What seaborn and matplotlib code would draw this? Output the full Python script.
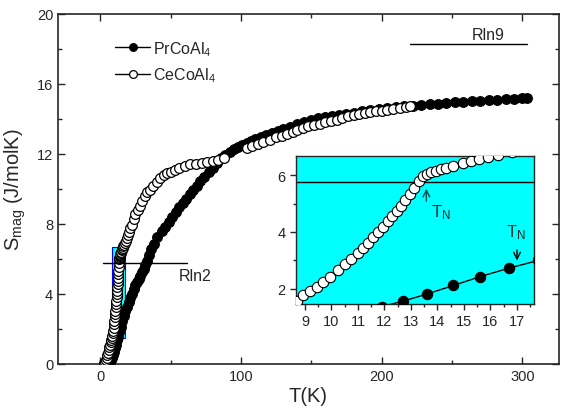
import numpy as np
import matplotlib
matplotlib.use("Agg")
import matplotlib.pyplot as plt
import seaborn as sns
from matplotlib.patches import Rectangle
from matplotlib.ticker import MultipleLocator

# ---------------- data ----------------
ce_T = [3.0, 3.5, 4.0, 4.5, 5.0, 5.5, 6.0, 6.5, 7.0, 7.5, 8.0, 8.5,
        8.69, 8.94, 9.19, 9.44, 9.69, 9.94, 10.26, 10.5, 10.75, 11.0, 11.2, 11.38,
        11.57, 11.75, 11.94, 12.13, 12.3, 12.47, 12.63, 12.79, 12.97, 13.13, 13.3,
        13.47, 13.6, 13.76, 13.95, 14.14, 14.33, 14.58, 14.95, 15.27, 15.58, 15.9,
        16.3, 16.8, 17.4, 18.0, 18.7, 19.5, 20.4, 21.4, 22.5, 23.7, 25.0, 26.5,
        28.0, 29.6, 31.5, 33.5, 35.5, 37.5, 40.0, 42.6, 45.0, 47.5, 50.0, 53.0,
        56.0, 60.0, 64.0, 68.0, 72.0, 76.0, 80.0, 84.0, 87.7,
        104, 108, 112, 116, 121, 125, 129, 133, 137, 140, 144, 148, 152, 156,
        160, 164, 168, 172, 176, 180, 184, 188, 192, 196, 200, 204, 208, 213,
        217, 220]
ce_S = [0.05, 0.12, 0.22, 0.35, 0.5, 0.65, 0.8, 0.95, 1.1, 1.25, 1.38, 1.5,
        1.59, 1.77, 1.91, 2.08, 2.26, 2.43, 2.68, 2.88, 3.05, 3.26, 3.43, 3.6,
        3.81, 3.99, 4.19, 4.38, 4.55, 4.73, 4.92, 5.13, 5.33, 5.53, 5.78,
        5.98, 6.05, 6.1, 6.15, 6.2, 6.26, 6.32, 6.41, 6.5, 6.58, 6.64,
        6.72, 6.82, 6.93, 7.05, 7.2, 7.35, 7.55, 7.75, 7.95, 8.3, 8.55, 8.8,
        9.05, 9.3, 9.6, 9.8, 9.95, 10.15, 10.4, 10.6, 10.8, 10.9, 10.97, 11.1,
        11.2, 11.3, 11.4, 11.45, 11.5, 11.55, 11.6, 11.68, 11.75,
        12.35, 12.45, 12.55, 12.68, 12.82, 12.95, 13.05, 13.15, 13.25, 13.35,
        13.48, 13.58, 13.66, 13.72, 13.8, 13.87, 13.95, 14.05, 14.15, 14.2,
        14.27, 14.32, 14.38, 14.43, 14.48, 14.53, 14.58, 14.65, 14.7, 14.72]

pr_T = [5.0, 5.8, 6.6, 7.4, 8.2, 9.0, 9.8, 10.6, 11.3, 11.9, 12.7, 13.6, 14.6,
        15.6, 16.7, 17.8, 18.9, 20.1, 21.3, 22.5, 23.7, 25.0, 26.2, 27.3, 28.6,
        29.8, 30.8, 32.0, 33.2, 34.4, 36.1, 37.9, 40.3, 43.8, 46.0, 48.6, 51,
        53.5, 56, 58.5, 61, 63.5, 66, 68.5, 71, 74, 77, 80, 83, 86, 89, 92, 95,
        98, 101, 104, 107, 110, 114, 118, 122, 126, 130, 135, 140, 145, 150,
        155, 160, 165, 170, 175, 180, 186, 192, 198, 204, 210, 216, 222, 228,
        234, 240, 246, 252, 258, 264, 270, 276, 282, 288, 294, 300, 303]
pr_S = [0.0, 0.05, 0.12, 0.22, 0.35, 0.5, 0.7, 0.9, 1.1, 1.38, 1.57, 1.82, 2.12,
        2.43, 2.73, 3.0, 3.25, 3.52, 3.77, 4.02, 4.29, 4.5, 4.7, 4.86, 5.05,
        5.25, 5.43, 5.65, 5.9, 6.2, 6.55, 6.86, 7.24, 7.62, 7.85, 8.1, 8.4,
        8.7, 8.95, 9.2, 9.45, 9.7, 9.92, 10.15, 10.45, 10.7, 10.95, 11.2, 11.5,
        11.75, 11.95, 12.12, 12.27, 12.4, 12.53, 12.65, 12.75, 12.85, 12.97,
        13.1, 13.22, 13.33, 13.43, 13.55, 13.7, 13.83, 13.93, 14.03, 14.12,
        14.18, 14.24, 14.3, 14.36, 14.43, 14.5, 14.56, 14.62, 14.67, 14.72,
        14.76, 14.8, 14.84, 14.88, 14.92, 14.95, 14.98, 15.01, 15.04, 15.07,
        15.1, 15.13, 15.15, 15.18, 15.2]

RLN2 = 5.76
RLN9 = 18.27
rln2_span = [2, 62]
rln9_span = [220, 303]
legend_labels = ["PrCoAl$_4$", "CeCoAl$_4$"]

# ---------------- style ----------------
sns.set_theme(style="ticks")
plt.rcParams['font.family'] = ['Liberation Sans', 'DejaVu Sans']
plt.rcParams['mathtext.default'] = 'regular'
plt.rcParams['xtick.direction'] = 'in'
plt.rcParams['ytick.direction'] = 'in'

fig = plt.figure(figsize=(5.61, 4.14), dpi=100)
ax = fig.add_axes([0.1034, 0.1184, 0.893, 0.8454])

ms = 7.0
sns.lineplot(x=pr_T, y=pr_S, ax=ax, sort=False, estimator=None, color='black',
             lw=1, marker='o', markersize=ms, markerfacecolor='black',
             markeredgecolor='black', markeredgewidth=0.8, label=legend_labels[0],
             zorder=3)
sns.lineplot(x=ce_T, y=ce_S, ax=ax, sort=False, estimator=None, color='black',
             lw=1, marker='o', markersize=ms, markerfacecolor='white',
             markeredgecolor='black', markeredgewidth=0.9, label=legend_labels[1],
             zorder=4)

ax.add_patch(Rectangle((8.5, 1.47), 9.2, 5.2, facecolor='#00FFFF',
                       edgecolor='#0000FF', lw=0.8, zorder=2))
ax.plot(rln2_span, [RLN2, RLN2], color='black', lw=1, zorder=5)
ax.plot(rln9_span, [RLN9, RLN9], color='black', lw=1, zorder=5)
ax.text(56, 5.05, "Rln2", fontsize=11.5, va='center', ha='left')
ax.text(276, 18.8, "Rln9", fontsize=11.5, va='center', ha='center')

ax.set_xlim(-30, 326)
ax.set_ylim(0, 20)
ax.xaxis.set_major_locator(MultipleLocator(100))
ax.xaxis.set_minor_locator(MultipleLocator(50))
ax.yaxis.set_major_locator(MultipleLocator(4))
ax.yaxis.set_minor_locator(MultipleLocator(2))
ax.tick_params(which='both', top=True, right=True, labelsize=10.5, width=1)
ax.tick_params(which='major', length=5)
ax.tick_params(which='minor', length=3)
for s in ax.spines.values():
    s.set_linewidth(1.2)
ax.set_xlabel("T(K)", fontsize=14.5, labelpad=2)
ax.set_ylabel("S$_{mag}$ (J/molK)", fontsize=14.5, labelpad=6)

leg = ax.legend(loc='upper left', bbox_to_anchor=(0.085, 0.97), frameon=False,
                fontsize=11.5, handlelength=2.2, handletextpad=0.2, labelspacing=0.5,
                markerscale=0.8)

# ---------------- inset ----------------
ins = fig.add_axes([0.5276, 0.2633, 0.4242, 0.3575])
ins.set_facecolor('#00FFFF')
sns.lineplot(x=pr_T, y=pr_S, ax=ins, sort=False, estimator=None, color='black',
             lw=1, marker='o', markersize=7.5, markerfacecolor='black',
             markeredgecolor='black', legend=False, zorder=3)
sns.lineplot(x=ce_T, y=ce_S, ax=ins, sort=False, estimator=None, color='black',
             lw=1, marker='o', markersize=7.5, markerfacecolor='white',
             markeredgecolor='black', markeredgewidth=0.8, legend=False, zorder=4)
ins.axhline(RLN2, color='black', lw=1, zorder=2)
ins.set_xlim(8.66, 17.64)
ins.set_ylim(1.47, 6.67)
ins.xaxis.set_major_locator(MultipleLocator(1))
ins.xaxis.set_minor_locator(MultipleLocator(0.5))
ins.yaxis.set_major_locator(MultipleLocator(2))
ins.yaxis.set_minor_locator(MultipleLocator(1))
ins.tick_params(which='both', labelsize=10.5, width=1, direction='out')
ins.tick_params(which='major', length=4)
ins.tick_params(which='minor', length=2.5)
ins.set_xlabel("")
ins.set_ylabel("")
for s in ins.spines.values():
    s.set_linewidth(1)

arrow_col = '#004d4d'
ins.annotate("", xy=(13.58, 5.62), xytext=(13.58, 4.98),
             arrowprops=dict(arrowstyle='->', color=arrow_col, lw=1))
ins.text(13.75, 4.72, "T$_N$", fontsize=12, ha='left', va='center')
ins.annotate("", xy=(17.0, 2.9), xytext=(17.0, 3.47),
             arrowprops=dict(arrowstyle='->', color='black', lw=1))
ins.text(16.6, 4.02, "T$_N$", fontsize=12, ha='left', va='center')

fig.savefig("out.png", dpi=100)
